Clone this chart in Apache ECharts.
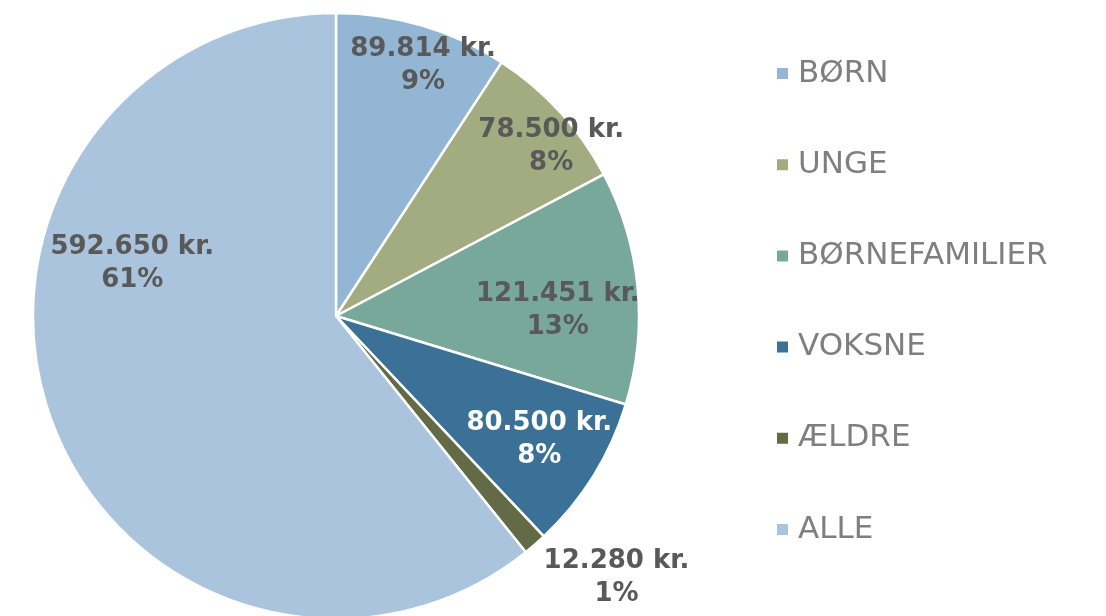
<!DOCTYPE html>
<html><head><meta charset="utf-8">
<script src="https://cdn.jsdelivr.net/npm/echarts@6/dist/echarts.min.js"></script>
<style>html,body{margin:0;padding:0;background:#fff}#c{width:1106px;height:616px}</style>
</head><body><div id="c"></div>
<script>
const categories = ['BØRN', 'UNGE', 'BØRNEFAMILIER', 'VOKSNE', 'ÆLDRE', 'ALLE'];
const values = [89814, 78500, 121451, 80500, 12280, 592650];
const colors = ['#93b6d5', '#a3ab80', '#78a89a', '#3b7097', '#636b46', '#a9c4dc'];
const labelOffsets = [[43, -102], [101, -65], [68, 9], [72, 42], [179, 145], [-58, -104]];
const labelColors = ['#595959', '#595959', '#595959', '#ffffff', '#595959', '#595959'];

function fmt(v) { return String(v).replace(/\B(?=(\d{3})+(?!\d))/g, '.'); }

const chart = echarts.init(document.getElementById('c'), null, { renderer: 'canvas' });
chart.setOption({
  animation: false,
  legend: {
    orient: 'vertical',
    left: 775,
    top: 58,
    padding: 0,
    icon: 'rect',
    itemWidth: 13,
    itemHeight: 13,
    itemGap: 60.2,
    selectedMode: false,
    textStyle: { fontFamily: 'DejaVu Sans', fontSize: 31, color: '#7f7f7f', lineHeight: 30, padding: [0, 0, 0, 4] },
    data: categories
  },
  series: [{
    type: 'pie',
    center: [336, 316],
    radius: [0, 303],
    startAngle: 90,
    clockwise: true,
    percentPrecision: 0,
    avoidLabelOverlap: false,
    emphasis: { disabled: true },
    itemStyle: { borderColor: '#ffffff', borderWidth: 2.5 },
    labelLine: { show: false },
    label: {
      show: true,
      position: 'inside',
      fontFamily: 'DejaVu Sans',
      fontWeight: 'bold',
      fontSize: 26,
      lineHeight: 33,
      align: 'center',
      formatter: p => fmt(p.value) + ' kr.\n' + p.percent + '%'
    },
    data: categories.map((n, i) => ({
      name: n,
      value: values[i],
      itemStyle: { color: colors[i] },
      label: { offset: labelOffsets[i], color: labelColors[i] }
    }))
  }]
});
</script></body></html>
